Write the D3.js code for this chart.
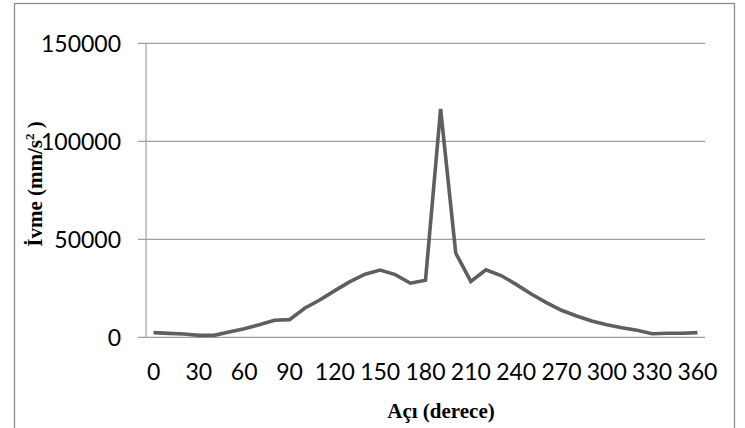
<!DOCTYPE html>
<html lang="tr">
<head>
    <meta charset="UTF-8">
    <title>İvme - Açı</title>
    <script src="https://d3js.org/d3.v7.min.js"></script>
    <style>
        body { margin: 0; background: #fff; }
        .tick-label { font-family: Lato, "Open Sans", sans-serif; font-size: 23px; fill: #000; }
        .axis-title { font-family: "Liberation Serif", "Times New Roman", serif; font-weight: bold; font-size: 21px; fill: #000; }
    </style>
</head>
<body>
    <div id="chart"></div>
    <script>
        // data
        const angles = [0, 10, 20, 30, 40, 50, 60, 70, 80, 90, 100, 110, 120, 130, 140, 150, 160, 170, 180,
                        190, 200, 210, 220, 230, 240, 250, 260, 270, 280, 290, 300, 310, 320, 330, 340, 350, 360];
        const ivme = [2400, 2000, 1700, 1000, 1000, 2700, 4400, 6400, 8700, 9000, 14800, 19000, 23800, 28400, 32200, 34300, 32000, 27600, 29100,
                      116500, 43000, 28500, 34400, 31500, 27000, 22100, 17700, 13800, 10900, 8300, 6400, 4900, 3600, 1800, 2100, 2100, 2400];
        const xTickLabels = [0, 30, 60, 90, 120, 150, 180, 210, 240, 270, 300, 330, 360];
        const yTicks = [0, 50000, 100000, 150000];

        const width = 745, height = 428;
        const plot = { left: 146, right: 705, top: 43.3, bottom: 337.3 };

        const svg = d3.select("#chart").append("svg")
            .attr("width", width)
            .attr("height", height);

        // outer frame (bottom runs off the picture)
        svg.append("rect")
            .attr("x", 14.5).attr("y", 3.5)
            .attr("width", 720).attr("height", 440)
            .attr("fill", "none")
            .attr("stroke", "#8c8c8c")
            .attr("stroke-width", 1.3);

        const x = d3.scaleBand()
            .domain(angles)
            .range([plot.left, plot.right]);

        const y = d3.scaleLinear()
            .domain([0, 150000])
            .range([plot.bottom, plot.top]);

        // horizontal gridlines + left ticks
        svg.append("g")
            .selectAll("line")
            .data(yTicks)
            .join("line")
            .attr("x1", plot.left - 8)
            .attr("x2", plot.right)
            .attr("y1", d => y(d))
            .attr("y2", d => y(d))
            .attr("stroke", "#a0a0a0")
            .attr("stroke-width", 1.2);

        // vertical axis line
        svg.append("line")
            .attr("x1", plot.left).attr("x2", plot.left)
            .attr("y1", y(150000)).attr("y2", y(0))
            .attr("stroke", "#a0a0a0")
            .attr("stroke-width", 1.2);

        // y tick labels
        svg.append("g")
            .selectAll("text")
            .data(yTicks)
            .join("text")
            .attr("class", "tick-label")
            .attr("x", 121)
            .attr("y", d => y(d))
            .attr("dy", "0.36em")
            .attr("text-anchor", "end")
            .text(d => d);

        // x tick labels
        svg.append("g")
            .selectAll("text")
            .data(xTickLabels)
            .join("text")
            .attr("class", "tick-label")
            .attr("x", d => x(d) + x.bandwidth() / 2)
            .attr("y", 380)
            .attr("text-anchor", "middle")
            .text(d => d);

        // the line
        const line = d3.line()
            .x((d, i) => x(angles[i]) + x.bandwidth() / 2)
            .y(d => y(d));

        svg.append("path")
            .datum(ivme)
            .attr("fill", "none")
            .attr("stroke", "#5f5f5f")
            .attr("stroke-width", 3.6)
            .attr("d", line);

        // axis titles
        svg.append("text")
            .attr("class", "axis-title")
            .attr("x", 441)
            .attr("y", 418)
            .attr("text-anchor", "middle")
            .text("Açı (derece)");

        const yTitle = svg.append("text")
            .attr("class", "axis-title")
            .attr("transform", "translate(42,184) rotate(-90)")
            .attr("text-anchor", "middle");
        yTitle.append("tspan").text("İvme (mm/s");
        yTitle.append("tspan").attr("font-size", "13px").attr("dy", "-8").text("2");
        yTitle.append("tspan").attr("dy", "8").text(" )");
    </script>
</body>
</html>
